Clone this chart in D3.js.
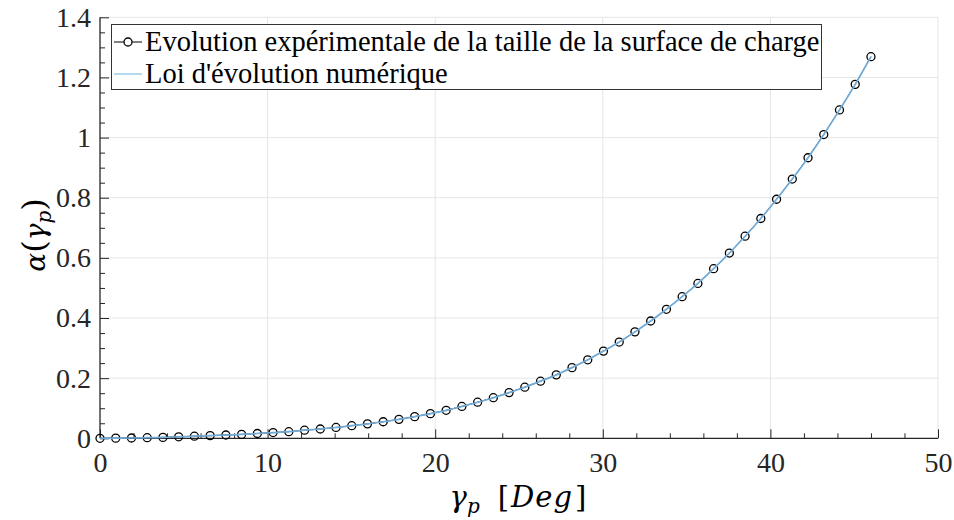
<!DOCTYPE html>
<html>
<head>
<meta charset="utf-8">
<script src="https://cdn.jsdelivr.net/npm/d3@7"></script>
<style>
  html, body { margin: 0; padding: 0; background: #fff; }
  svg { display: block; }
  .serif { font-family: "Liberation Serif", Tinos, "Times New Roman", Times, serif; }
  .math { font-family: "DejaVu Serif", serif; }
</style>
</head>
<body>
<svg id="chart" width="954" height="520"></svg>
<script>
// Measured angle samples (degrees), 50 points from 0 to 46
const gammaP = d3.range(50).map(i => +(i * 46 / 49).toFixed(4));

// Measured charge-surface size alpha(gamma_p)
const alphaExp = [
  0.000, 0.0005, 0.001, 0.002, 0.003, 0.005, 0.007, 0.009, 0.011, 0.013,
  0.016, 0.019, 0.022, 0.027, 0.031, 0.036, 0.042, 0.048, 0.055, 0.063,
  0.072, 0.082, 0.093, 0.106, 0.120, 0.135, 0.152, 0.170, 0.190, 0.211,
  0.235, 0.261, 0.290, 0.320, 0.354, 0.390, 0.429, 0.471, 0.515, 0.564,
  0.616, 0.672, 0.731, 0.795, 0.862, 0.933, 1.010, 1.092, 1.177, 1.269
];

// Numerical evolution law evaluated at the same angles
const alphaNum = alphaExp.slice();

const xTicks = [0, 10, 20, 30, 40, 50];
const yTicks = [0, 0.2, 0.4, 0.6, 0.8, 1, 1.2, 1.4];
const legendLabels = [
  "Evolution expérimentale de la taille de la surface de charge",
  "Loi d'évolution numérique"
];

const svg = d3.select("#chart");
const plotL = 100, plotR = 938, plotT = 17.3, plotB = 438.3;

const x = d3.scaleLinear().domain([0, 50]).range([plotL, plotR]);
const y = d3.scaleLinear().domain([0, 1.4]).range([plotB, plotT]);

const axisColor = "#262626";

// grid
const grid = svg.append("g");
grid.selectAll("line.gx").data(xTicks.slice(1)).join("line")
  .attr("x1", d => x(d)).attr("x2", d => x(d))
  .attr("y1", plotT).attr("y2", plotB)
  .attr("stroke", "#e6e6e6").attr("stroke-width", 1);
grid.selectAll("line.gy").data(yTicks.slice(1)).join("line")
  .attr("x1", plotL).attr("x2", plotR)
  .attr("y1", d => y(d)).attr("y2", d => y(d))
  .attr("stroke", "#e6e6e6").attr("stroke-width", 1);

// axes with inward ticks
const xMinor = d3.range(0, 50.001, 2).filter(v => v % 10 !== 0);
const yMinor = d3.range(0, 1.4001, 0.05).filter(v => Math.abs(v / 0.2 - Math.round(v / 0.2)) > 1e-6);

const gx = svg.append("g").attr("transform", `translate(0,${plotB})`)
  .call(d3.axisBottom(x).tickValues(xTicks).tickSize(-9).tickPadding(14).tickFormat(d3.format("d")));
const gxm = svg.append("g").attr("transform", `translate(0,${plotB})`)
  .call(d3.axisBottom(x).tickValues(xMinor).tickSize(-5).tickFormat(""));
const gy = svg.append("g").attr("transform", `translate(${plotL},0)`)
  .call(d3.axisLeft(y).tickValues(yTicks).tickSize(-9).tickPadding(9).tickFormat(d => d3.format("~g")(d)));
const gym = svg.append("g").attr("transform", `translate(${plotL},0)`)
  .call(d3.axisLeft(y).tickValues(yMinor).tickSize(-5).tickFormat(""));

[gx, gy, gxm, gym].forEach(g => g.attr("font-family", null).attr("font-size", null));
[gxm, gym].forEach(g => g.select(".domain").remove());
gx.select(".domain").attr("d", `M${plotL},0H${plotR}`);
gy.select(".domain").attr("d", `M0,${plotB}V${plotT}`);
[gx, gy].forEach(g => g.select(".domain").attr("stroke", axisColor).attr("stroke-width", 1.3));
[gx, gy, gxm, gym].forEach(g => {
  g.selectAll(".tick line").attr("stroke", axisColor).attr("stroke-width", 1);
  g.selectAll(".tick text").attr("fill", axisColor)
    .attr("class", "serif").style("font-size", "28px");
});

// experimental series: thin black line + hollow circles
const pts = gammaP.map((g, i) => [g, alphaExp[i]]);
const line = d3.line().x(d => x(d[0])).y(d => y(d[1]));
svg.append("path").datum(pts).attr("d", line)
  .attr("fill", "none").attr("stroke", "#000").attr("stroke-width", 1);
svg.append("g").selectAll("circle").data(pts).join("circle")
  .attr("cx", d => x(d[0])).attr("cy", d => y(d[1])).attr("r", 4)
  .attr("fill", "none").attr("stroke", "#000").attr("stroke-width", 1.3);

// numerical law on top
const numPts = gammaP.map((g, i) => [g, alphaNum[i]]);
svg.append("path").datum(numPts)
  .attr("d", d3.line().curve(d3.curveMonotoneX).x(d => x(d[0])).y(d => y(d[1])))
  .attr("fill", "none").attr("stroke", "#72acd8").attr("stroke-width", 1.7);

// axis titles
const ylab = svg.append("text")
  .attr("class", "math")
  .attr("transform", `translate(45,235) rotate(-90)`)
  .attr("text-anchor", "middle")
  .style("font-size", "28px").attr("fill", "#000");
ylab.append("tspan").style("font-style", "italic").text("α");
ylab.append("tspan").style("font-size", "32px").text("(");
ylab.append("tspan").style("font-style", "italic").text("γ");
ylab.append("tspan").attr("dy", 6).style("font-style", "italic").style("font-size", "20px").text("p");
ylab.append("tspan").attr("dy", -6).style("font-size", "32px").text(")");

const xlab = svg.append("text")
  .attr("class", "math")
  .attr("x", 518).attr("y", 507)
  .attr("text-anchor", "middle")
  .style("font-size", "29px").attr("fill", "#000");
xlab.append("tspan").style("font-style", "italic").text("γ");
xlab.append("tspan").attr("dy", 6).style("font-style", "italic").style("font-size", "20px").text("p");
xlab.append("tspan").attr("dy", -6).attr("dx", 18).text("[");
xlab.append("tspan").attr("dx", 2).style("font-style", "italic").style("letter-spacing", "1px").text("Deg");
xlab.append("tspan").attr("dx", 2).text("]");

// legend
const lg = svg.append("g");
lg.append("rect").attr("x", 111.5).attr("y", 24.5).attr("width", 710).attr("height", 65)
  .attr("fill", "#fff").attr("stroke", "#333").attr("stroke-width", 1);
const rows = [42, 74];
lg.append("line").attr("x1", 114).attr("x2", 142).attr("y1", rows[0]).attr("y2", rows[0])
  .attr("stroke", "#000").attr("stroke-width", 1);
lg.append("circle").attr("cx", 128).attr("cy", rows[0]).attr("r", 4)
  .attr("fill", "#fff").attr("stroke", "#000").attr("stroke-width", 1.3);
lg.append("line").attr("x1", 114).attr("x2", 142).attr("y1", rows[1]).attr("y2", rows[1])
  .attr("stroke", "#9ccbea").attr("stroke-width", 1.5);
lg.selectAll("text").data(legendLabels).join("text")
  .attr("class", "serif")
  .attr("x", 145).attr("y", (d, i) => rows[i] + 9)
  .style("font-size", "28.5px").attr("fill", "#000")
  .text(d => d);
</script>
</body>
</html>
